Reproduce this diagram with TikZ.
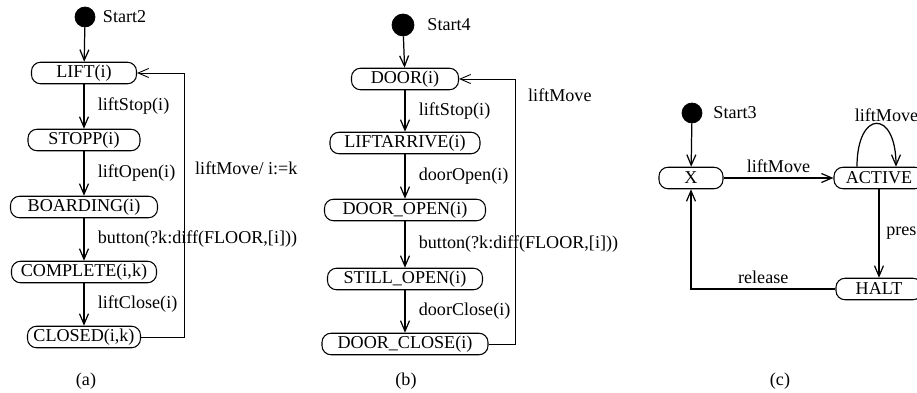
\documentclass[tikz,border=0pt]{standalone}
\usepackage{fontspec}
\setmainfont{Liberation Serif}
\usetikzlibrary{positioning}
\usetikzlibrary{arrows.meta}
\tikzset {
  % state box with round ends
  state/.style = {draw, rounded corners=1.8mm, minimum height=4.3mm, inner sep=1pt, line width=0.6pt},
  % initial pseudo state
  start/.style = {draw, fill=black, circle, inner sep=0pt},
  % transitions and the return edges
  trans/.style = {->, line width=0.7pt},
  back/.style = {->, line width=0.5pt},
  lbl/.style = {inner sep=1pt},
  >={Straight Barb[length=2.1mm,width=1.8mm]},
}

\begin{document}
\begin{tikzpicture}[x=0.2mm, y=-0.2mm, font=\fontsize{10.3}{12}\selectfont]
  \useasboundingbox (0,0) rectangle (917,393);

  % (a) lift
  \node[start, minimum size=4mm] (s2) at (85,17) {};
  \node[lbl, right=1.1mm of s2] (s2l) {Start2};
  \node[state, minimum width=21mm] (lift) at (84,73) {LIFT(i)};
  \node[state, minimum width=22.4mm] (stopp) at (84,140) {STOPP(i)};
  \node[state, minimum width=29.4mm] (boarding) at (84,207) {BOARDING(i)};
  \node[state, minimum width=29mm] (complete) at (84,272) {COMPLETE(i,k)};
  \node[state, minimum width=22.6mm] (closed) at (84,337) {CLOSED(i,k)};
  \coordinate (aturn) at (184,337);

  \draw [trans] (s2) -- (lift);
  \draw [trans] (lift) -- node[lbl, right=2.3mm] (a1) {liftStop(i)} (stopp);
  \draw [trans] (stopp) -- node[lbl, right=2.3mm] (a2) {liftOpen(i)} (boarding);
  \draw [trans] (boarding) -- node[lbl, right=2.3mm] (a3) {button(?k:diff(FLOOR,[i]))} (complete);
  \draw [trans] (complete) -- node[lbl, right=2.3mm] (a4) {liftClose(i)} (closed);
  \draw [back] (closed) -- (aturn) |- node[lbl, pos=0.32, right=1.8mm] (a5) {liftMove/ i:=k} (lift);

  % (b) door
  \node[start, minimum size=4.4mm] (s4) at (403,25) {};
  \node[lbl, right=2.2mm of s4] (s4l) {Start4};
  \node[state, minimum width=21.4mm] (door) at (405,79) {DOOR(i)};
  \node[state, minimum width=30mm] (arrive) at (405,143) {LIFTARRIVE(i)};
  \node[state, minimum width=32.2mm] (open) at (405,210) {DOOR\_OPEN(i)};
  \node[state, minimum width=31mm] (still) at (405,279) {STILL\_OPEN(i)};
  \node[state, minimum width=33.2mm] (close) at (405,344) {DOOR\_CLOSE(i)};
  \coordinate (bturn) at (515,344);

  \draw [trans] (s4) -- (door);
  \draw [trans] (door) -- node[lbl, right=2.3mm] (b1) {liftStop(i)} (arrive);
  \draw [trans] (arrive) -- node[lbl, right=2.3mm] (b2) {doorOpen(i)} (open);
  \draw [trans] (open) -- node[lbl, right=2.3mm] (b3) {button(?k:diff(FLOOR,[i]))} (still);
  \draw [trans] (still) -- node[lbl, right=2.3mm] (b4) {doorClose(i)} (close);
  \draw [back] (close) -- (bturn) |- node[lbl, pos=0.47, right=2.2mm] (b5) {liftMove} (door);

  % (c) halt button
  \node[start, minimum size=4mm] (s3) at (692,113) {};
  \node[lbl, right=1.8mm of s3] (s3l) {Start3};
  \node[state, minimum width=12.8mm] (x) at (691,178) {X};
  \node[state, minimum width=18mm] (active) at (879,178) {ACTIVE};
  \node[state, minimum width=17.2mm] (halt) at (879,289) {HALT};

  \draw [trans] (s3) -- (x);
  \draw [trans] (x) -- node[lbl, above=0.6mm] (c1) {liftMove} (active);
  \draw [trans] ([xshift=-4.4mm]active.north) .. controls +(0,11.5mm) and +(0,11.5mm) ..
    node[lbl, above, xshift=2mm] (c2) {liftMove} ([xshift=3.4mm]active.north);
  \draw [trans] (active) -- node[lbl, right=1mm] (c3) {press} (halt);
  \draw [trans] (halt) -| node[lbl, pos=0.25, above=0.6mm] (c4) {release} (x);

  % captions
  \node (capa) at (86,381) {(a)};
  \node (capb) at (406,381) {(b)};
  \node (capc) at (780,381) {(c)};
\end{tikzpicture}
\end{document}
